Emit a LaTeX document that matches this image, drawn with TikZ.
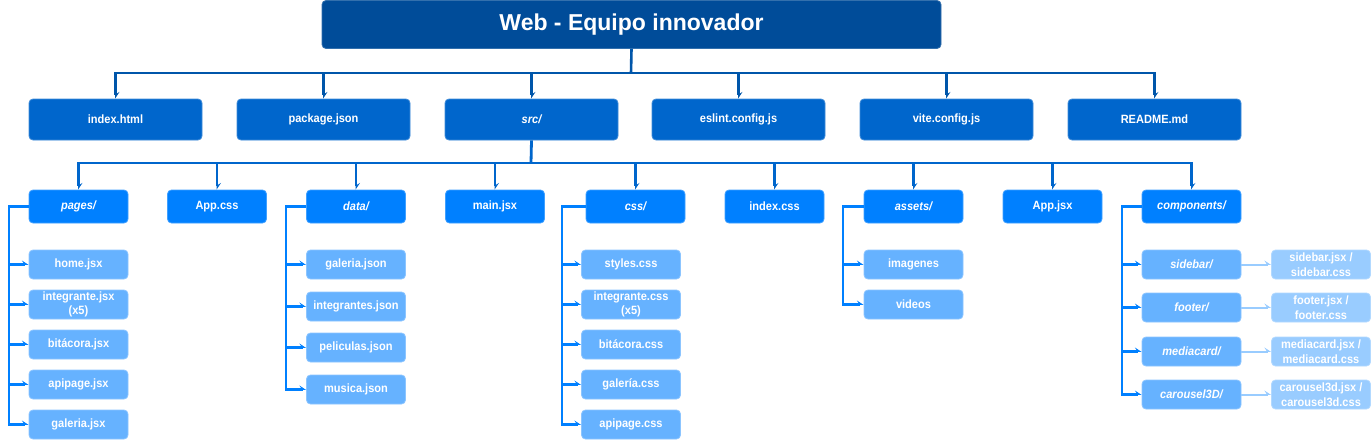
\documentclass[tikz,border=0pt]{standalone}
\usepackage{fontspec}
\setmainfont{Liberation Sans}
\newfontfamily\bxfont[FakeStretch=0.92]{Liberation Sans}
\usetikzlibrary{arrows.meta}
\definecolor{cT}{HTML}{004C99}
\definecolor{cA}{HTML}{0066CC}
\definecolor{cB}{HTML}{0080FF}
\definecolor{cC}{HTML}{66B2FF}
\definecolor{cD}{HTML}{99CCFF}
\definecolor{cL}{HTML}{0056AA}
\tikzset{
  bx/.style={rounded corners=4pt, inner sep=0pt, align=center, text=white,
    font=\bxfont\bfseries\fontsize{12}{14.5}\selectfont, line width=0.8pt},
  ttl/.style={bx, fill=cT, draw=cT!80!white, minimum width=619pt, minimum height=48pt,
    font=\bfseries\fontsize{23}{26}\selectfont},
  la/.style={bx, fill=cA, draw=cA!75!white, minimum width=173pt, minimum height=41pt},
  lb/.style={bx, fill=cB, draw=cB!75!white, minimum width=99pt, minimum height=33pt},
  lc/.style={bx, fill=cC, draw=cC!75!white, minimum width=99pt, minimum height=29pt},
  ld/.style={bx, fill=cD, draw=cD!75!white, minimum width=99pt, minimum height=29pt},
  dir/.style={font=\bxfont\bfseries\itshape\fontsize{12}{14.5}\selectfont},
  tip/.style={-{Stealth[harpoon,length=6pt,width=8pt,inset=2.5pt]}},
  ca/.style={draw=cL, line width=2.6pt},
  cb/.style={draw=cA, line width=2.8pt},
  cc/.style={draw=cB, line width=2.3pt},
  cd/.style={draw=cD, line width=2pt},
}
\begin{document}
\begin{tikzpicture}[x=1pt,y=-1pt]
\useasboundingbox[fill=white] (0,0) rectangle (1371,440);
% title
\node[ttl] (title) at (631.5,24.5) {Web - Equipo innovador};
% level 1
\node[la] (idx) at (115.5,119.5) {index.html};
\node[la] (pkg) at (323.5,119.5) {package.json};
\node[la,dir] (src) at (531.5,119.5) {src/};
\node[la] (esl) at (738.5,119.5) {eslint.config.js};
\node[la] (vite) at (946.5,119.5) {vite.config.js};
\node[la] (readme) at (1154.5,119.5) {README.md};
\coordinate (bus1) at (631,73);
\draw[ca] (title.south) -- (bus1);
\foreach \n in {idx,pkg,src,esl,vite,readme}{\draw[ca,tip] (bus1) -| (\n.north);}
% level 2
\node[lb,dir] (pages) at (78.5,206.5) {pages/};
\node[lb] (appcss) at (217,206.5) {App.css};
\node[lb,dir] (data) at (356,206.5) {data/};
\node[lb] (main) at (495,206.5) {main.jsx};
\node[lb,dir] (css) at (635.5,206.5) {css/};
\node[lb] (idxcss) at (774.5,206.5) {index.css};
\node[lb,dir] (assets) at (913.5,206.5) {assets/};
\node[lb] (appjsx) at (1052.5,206.5) {App.jsx};
\node[lb,dir] (comp) at (1191.5,206.5) {components/};
\coordinate (bus2) at (531,163);
\draw[cb] (src.south) -- (bus2);
\foreach \n in {pages,appcss,data,main,css,idxcss,assets,appjsx,comp}{\draw[cb,tip] (bus2) -| (\n.north);}
% pages children
\node[lc] (p1) at (78.5,264.5) {home.jsx};
\node[lc] (p2) at (78.5,304.5) {integrante.jsx\\(x5)};
\node[lc] (p3) at (78.5,344.5) {bitácora.jsx};
\node[lc] (p4) at (78.5,384.5) {apipage.jsx};
\node[lc] (p5) at (78.5,424.5) {galeria.jsx};
\coordinate (vp) at (9,0);
\foreach \n in {p1,p2,p3,p4,p5}{\draw[cc,tip] (pages.west) -| (vp |- \n.west) -- (\n.west);}
% data children
\node[lc] (d1) at (356,264.5) {galeria.json};
\node[lc] (d2) at (356,306.5) {integrantes.json};
\node[lc] (d3) at (356,347.5) {peliculas.json};
\node[lc] (d4) at (356,389.5) {musica.json};
\coordinate (vd) at (286,0);
\foreach \n in {d1,d2,d3,d4}{\draw[cc,tip] (data.west) -| (vd |- \n.west) -- (\n.west);}
% css children
\node[lc] (s1) at (631,264.5) {styles.css};
\node[lc] (s2) at (631,304.5) {integrante.css\\(x5)};
\node[lc] (s3) at (631,344.5) {bitácora.css};
\node[lc] (s4) at (631,384.5) {galería.css};
\node[lc] (s5) at (631,424.5) {apipage.css};
\coordinate (vs) at (562,0);
\foreach \n in {s1,s2,s3,s4,s5}{\draw[cc,tip] (css.west) -| (vs |- \n.west) -- (\n.west);}
% assets children
\node[lc] (a1) at (913.5,264.5) {imagenes};
\node[lc] (a2) at (913.5,304.5) {videos};
\coordinate (va) at (843,0);
\foreach \n in {a1,a2}{\draw[cc,tip] (assets.west) -| (va |- \n.west) -- (\n.west);}
% components children
\node[lc,dir] (c1) at (1191.5,264.5) {sidebar/};
\node[lc,dir] (c2) at (1191.5,307.5) {footer/};
\node[lc,dir] (c3) at (1191.5,351.5) {mediacard/};
\node[lc,dir] (c4) at (1191.5,394.5) {carousel3D/};
\coordinate (vc) at (1122,0);
\foreach \n in {c1,c2,c3,c4}{\draw[cc,tip] (comp.west) -| (vc |- \n.west) -- (\n.west);}
% component files
\node[ld] (f1) at (1321,264.5) {sidebar.jsx /\\sidebar.css};
\node[ld] (f2) at (1321,307.5) {footer.jsx /\\footer.css};
\node[ld] (f3) at (1321,351.5) {mediacard.jsx /\\mediacard.css};
\node[ld] (f4) at (1321,394.5) {carousel3d.jsx /\\carousel3d.css};
\foreach \i in {1,2,3,4}{\draw[cd,tip] (c\i.east) -- (f\i.west);}
\end{tikzpicture}
\end{document}
